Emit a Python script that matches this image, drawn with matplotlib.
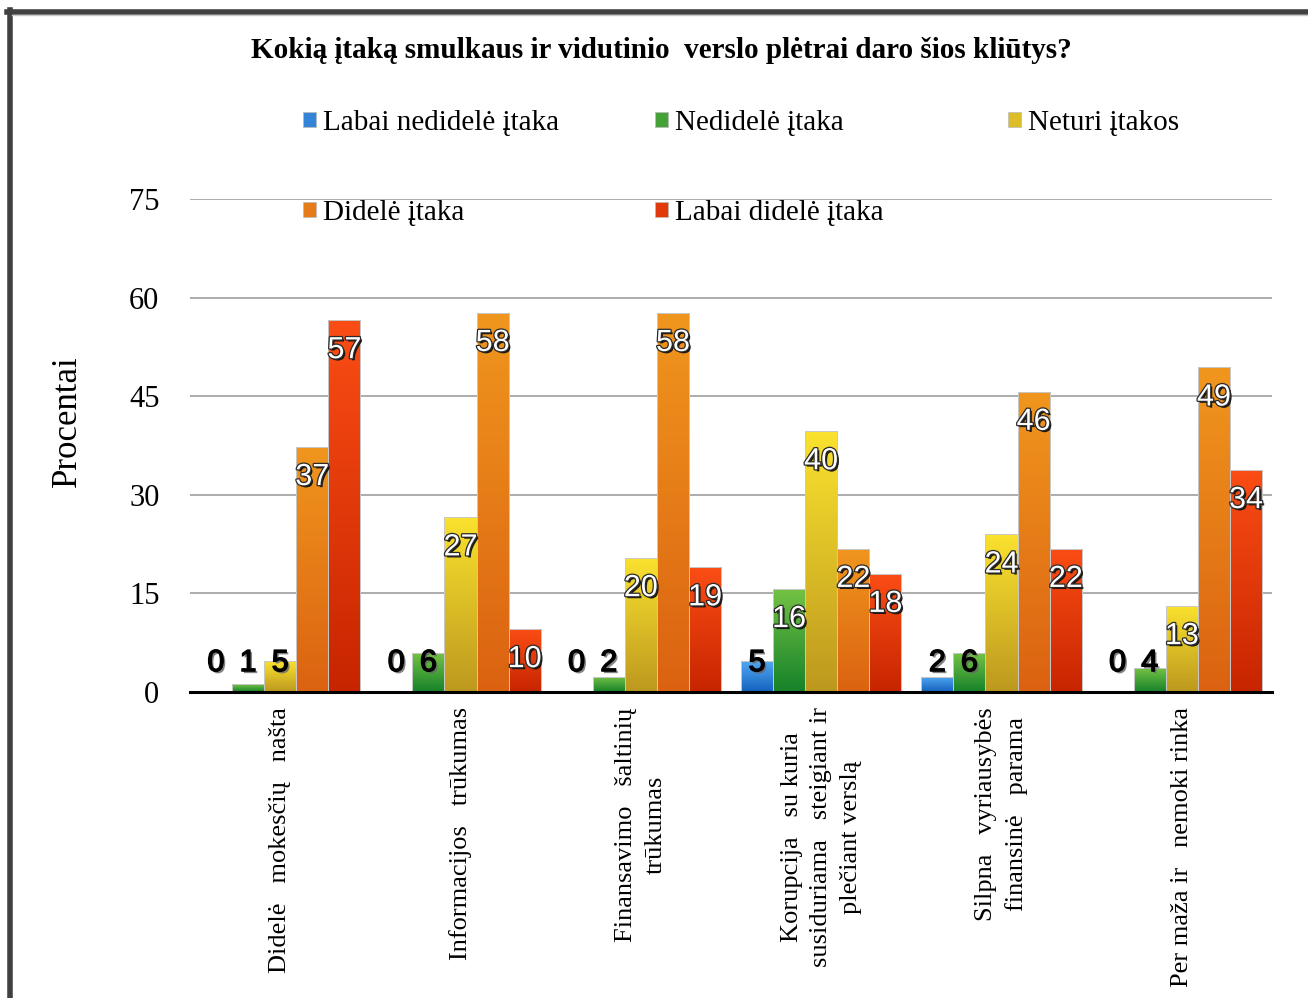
import numpy as np
import matplotlib
matplotlib.use("Agg")
import matplotlib.pyplot as plt
import matplotlib.patheffects as pe
from matplotlib.colors import to_rgb
from matplotlib.patches import Rectangle
from matplotlib.lines import Line2D

# data (percent)
categories = [
    "Didelė   mokesčių   našta",
    "Informacijos   trūkumas",
    "Finansavimo   šaltinių\ntrūkumas",
    "Korupcija   su kuria\nsusiduriama   steigiant ir\nplečiant verslą",
    "Silpna   vyriausybės\nfinansinė   parama",
    "Per maža ir   nemoki rinka",
]
series_names = ["Labai nedidelė įtaka", "Nedidelė įtaka", "Neturi įtakos",
                "Didelė įtaka", "Labai didelė įtaka"]
labai_nedidele = [0, 0, 0, 4.7, 2.3, 0]
nedidele = [1.2, 5.9, 2.3, 15.7, 5.9, 3.6]
neturi = [4.7, 26.6, 20.4, 39.7, 24.0, 13.1]
didele = [37.3, 57.7, 57.7, 21.8, 45.7, 49.4]
labai_didele = [56.6, 9.6, 19.0, 18.0, 21.8, 33.8]
yticks = [0, 15, 30, 45, 60, 75]

series = [labai_nedidele, nedidele, neturi, didele, labai_didele]
# (top colour, bottom colour) of each bar gradient
grads = [("#52a8f2", "#1462bf"),
         ("#74c244", "#16822a"),
         ("#fae22e", "#bd981f"),
         ("#f0961e", "#db6211"),
         ("#fb4d15", "#c72500")]

serif = "Liberation Serif"
sans = "Liberation Sans"

fig = plt.figure(figsize=(13.08, 9.98), dpi=100)
ax = fig.add_axes([190 / 1308, 1 - 692 / 998, 1082 / 1308, 493 / 998])

x = np.arange(len(categories))
w = 0.178

for j, vals in enumerate(series):
    top, bot = grads[j]
    bars = ax.bar(x + (j - 2) * w, vals, w, color=top, edgecolor="none", zorder=2)
    t = np.linspace(0, 1, 128)[:, None]
    img = (1 - t) * np.array(to_rgb(bot)) + t * np.array(to_rgb(top))
    img = img[:, None, :]
    for b, v in zip(bars, vals):
        if v <= 0:
            continue
        x0 = b.get_x()
        im = ax.imshow(img, extent=[x0, x0 + w, 0, v], origin="lower",
                       aspect="auto", zorder=2.5, interpolation="bilinear")
        im.set_clip_path(b)
        ax.add_patch(Rectangle((x0, 0), w, v, facecolor="none",
                               edgecolor="#c8c8c8", linewidth=0.7, zorder=2.6))
    # value labels
    for xi, v in zip(x + (j - 2) * w, vals):
        big = v >= 8
        ypos = max(v - 4.6, 4.4)
        if big:
            effects = [pe.SimplePatchShadow(offset=(1.5, -1.5), shadow_rgbFace="#111111", alpha=0.95),
                       pe.Stroke(linewidth=1.8, foreground="#2a2a2a"), pe.Normal()]
            col = "white"
        else:
            effects = [pe.SimplePatchShadow(offset=(1.5, -1.5), shadow_rgbFace="#666666", alpha=0.8),
                       pe.Stroke(linewidth=1.0, foreground="black"), pe.Normal()]
            col = "black"
        ax.text(xi, ypos, "%.0f" % v, ha="center", va="center", color=col,
                fontsize=22, family=sans, zorder=4, path_effects=effects)

ax.set_xlim(-0.5, len(categories) - 0.5)
ax.set_ylim(0, 75)
ax.set_yticks(yticks)
ax.set_yticklabels([str(v) for v in yticks], fontsize=22, family=serif)
ax.set_xticks(x)
ax.set_xticklabels(categories, rotation=90, ha="center", va="top",
                   multialignment="center", fontsize=19, family=serif)
for lbl in ax.get_xticklabels():
    lbl.set_linespacing(1.45)
ax.tick_params(axis="both", length=0)
ax.tick_params(axis="y", pad=22)
ax.tick_params(axis="x", pad=11)

ax.grid(axis="y", color="#a6a6a6", linewidth=1.3, zorder=0)
ax.set_axisbelow(True)
for s in ["left", "right", "top"]:
    ax.spines[s].set_visible(False)
ax.spines["bottom"].set_linewidth(2.2)
ax.spines["bottom"].set_color("black")
ax.spines["bottom"].set_zorder(5)

ax.set_ylabel("Procentai", fontsize=25, family=serif)
ax.yaxis.set_label_coords(-0.098, 0.55)

fig.text(661 / 1308, 1 - 50 / 998,
         "Kokią įtaką smulkaus ir vidutinio  verslo plėtrai daro šios kliūtys?",
         ha="center", va="center", fontsize=21, fontweight="bold", family=serif)

# legend, laid out in rows like the original
leg_pos = [(303, 123), (655, 123), (1008, 123), (303, 213), (655, 213)]
for j, name in enumerate(series_names):
    top, bot = grads[j]
    mid = tuple((np.array(to_rgb(top)) + np.array(to_rgb(bot))) / 2)
    h = Rectangle((0, 0), 1, 1, facecolor=mid, edgecolor="#bbbbbb", linewidth=0.5)
    px, py = leg_pos[j]
    fig.legend([h], [name], loc="center left",
               bbox_to_anchor=(px / 1308, 1 - py / 998),
               frameon=False, borderpad=0, borderaxespad=0,
               handlelength=0.45, handleheight=0.45, handletextpad=0.25,
               prop={"family": serif, "size": 21})

# dark frame around the chart (top and left)
fig.add_artist(Line2D([7 / 1308, 1], [1 - 11.5 / 998] * 2, color="#404040",
                      linewidth=4, transform=fig.transFigure))
fig.add_artist(Line2D([9.5 / 1308] * 2, [0, 1 - 9.5 / 998], color="#404040",
                      linewidth=4, transform=fig.transFigure))
fig.add_artist(Line2D([12 / 1308, 1], [1 - 15 / 998] * 2, color="#c8c8c8",
                      linewidth=1, transform=fig.transFigure))

fig.savefig("out.png", dpi=100)
